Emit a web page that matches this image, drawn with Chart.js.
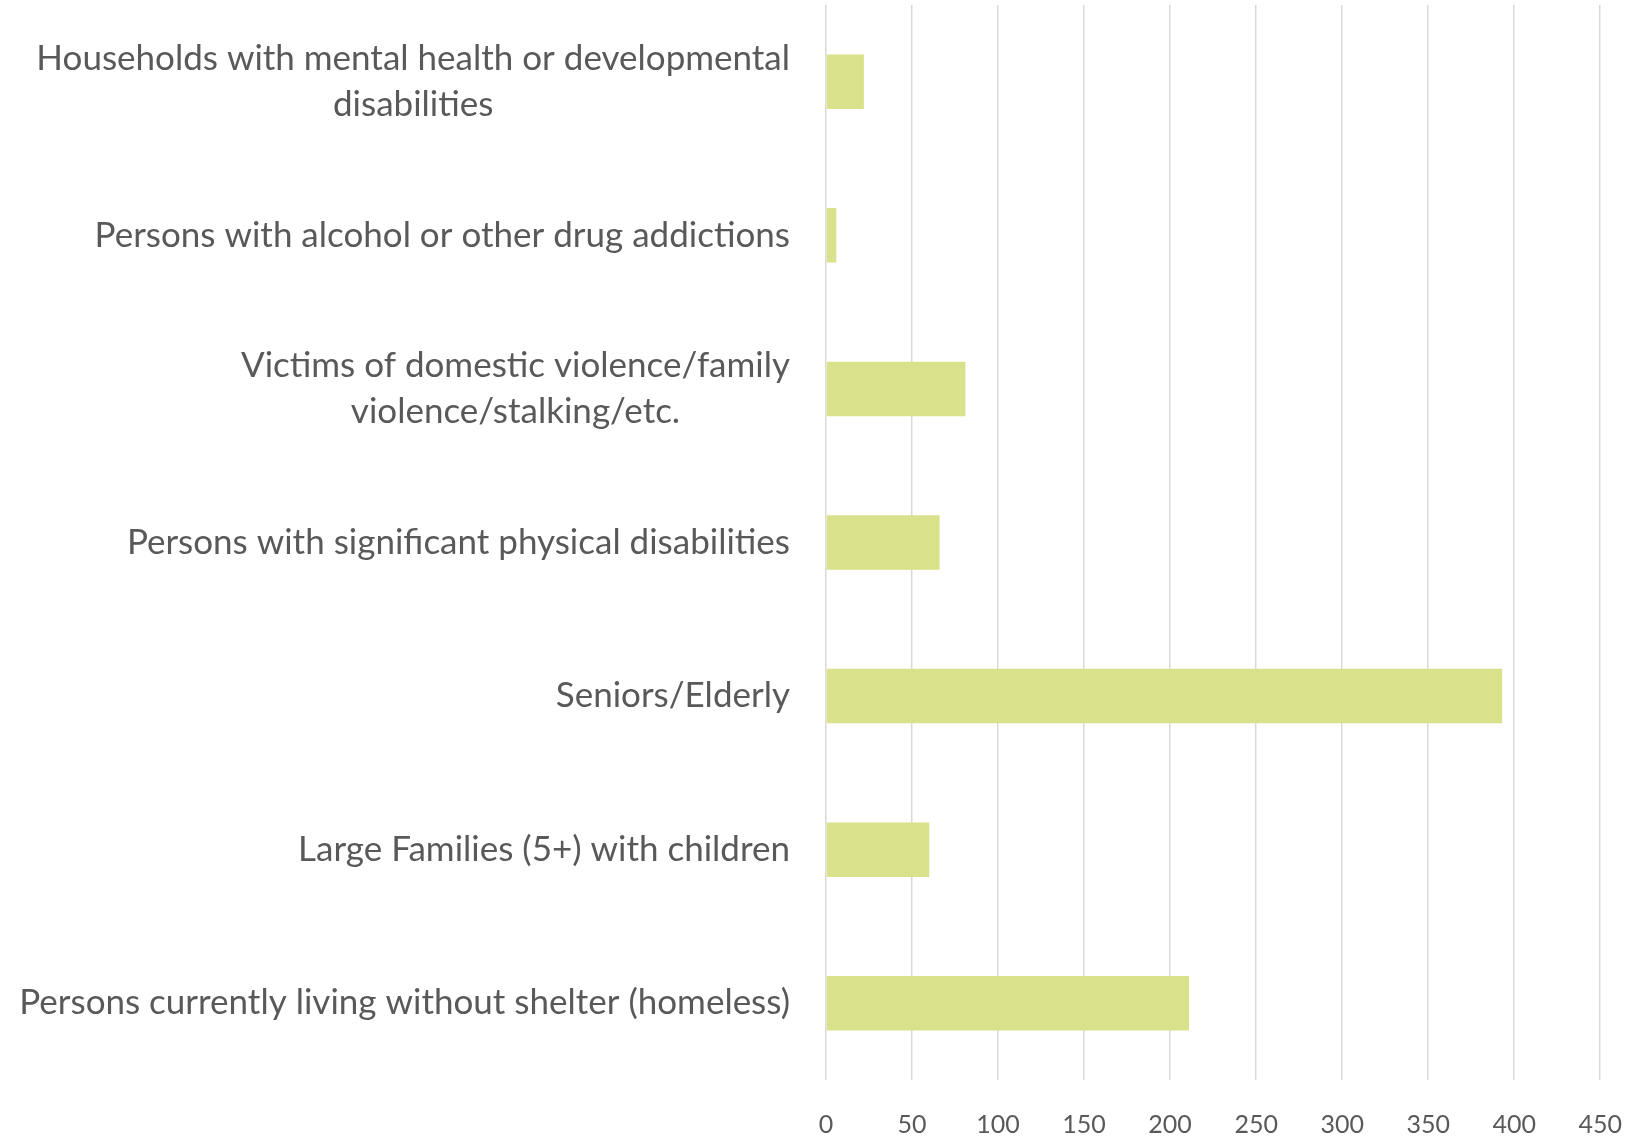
<!DOCTYPE html>
<html>
<head>
<meta charset="utf-8">
<title>Special needs households</title>
<script src="https://cdn.jsdelivr.net/npm/chart.js@4/dist/chart.umd.min.js"></script>
<style>
  html, body { margin: 0; padding: 0; background: #ffffff; }
  #wrap { width: 1652px; height: 1140px; }
</style>
</head>
<body>
<div id="wrap"><canvas id="chart" width="1652" height="1140"></canvas></div>
<script>
// Category labels, top to bottom; wrapped labels are given as arrays of lines
const categories = [
  ['Households with mental health or developmental', 'disabilities'],
  'Persons with alcohol or other drug addictions',
  ['Victims of domestic violence/family', 'violence/stalking/etc.'],
  'Persons with significant physical disabilities',
  'Seniors/Elderly',
  'Large Families (5+) with children',
  'Persons currently living without shelter (homeless)'
];

// Number of households per category
const counts = [22, 6, 81, 66, 393, 60, 211];

// Value axis tick labels
const xTickValues = [0, 50, 100, 150, 200, 250, 300, 350, 400, 450];

const TEXT_COLOR = '#595959';
const BAR_COLOR = '#D9E28A';
const GRID_COLOR = '#D9D9D9';
const LABEL_FONT = '35px Lato';
const LABEL_LINE_HEIGHT = 45.5;
const LABEL_GAP = 36;

// Draws the category labels right-aligned as a block, with wrapped lines centred
const categoryLabels = {
  id: 'categoryLabels',
  afterDraw(chart) {
    const { ctx, chartArea, scales: { y } } = chart;
    const right = chartArea.left - LABEL_GAP;
    ctx.save();
    ctx.font = LABEL_FONT;
    ctx.fillStyle = TEXT_COLOR;
    ctx.textAlign = 'center';
    ctx.textBaseline = 'middle';
    categories.forEach((label, i) => {
      const lines = Array.isArray(label) ? label : [label];
      const blockWidth = Math.max(...lines.map(l => ctx.measureText(l).width));
      const cx = right - blockWidth / 2;
      const cy = y.getPixelForValue(i);
      lines.forEach((line, j) => {
        ctx.fillText(line, cx, cy + (j - (lines.length - 1) / 2) * LABEL_LINE_HEIGHT);
      });
    });
    ctx.restore();
  }
};

new Chart(document.getElementById('chart'), {
  type: 'bar',
  data: {
    labels: categories,
    datasets: [{
      data: counts,
      backgroundColor: BAR_COLOR,
      borderWidth: 0,
      categoryPercentage: 1,
      barPercentage: 0.355
    }]
  },
  options: {
    indexAxis: 'y',
    responsive: false,
    animation: false,
    layout: { padding: { top: 5, right: 50, bottom: 2, left: 0 } },
    plugins: {
      legend: { display: false },
      tooltip: { enabled: false }
    },
    scales: {
      x: {
        type: 'linear',
        min: 0,
        max: 450,
        afterBuildTicks(scale) {
          scale.ticks = xTickValues.map(v => ({ value: v }));
        },
        grid: { color: GRID_COLOR, lineWidth: 1.5, drawTicks: false },
        border: { display: false },
        ticks: {
          color: TEXT_COLOR,
          font: { family: 'Lato', size: 25 },
          padding: 30,
          maxRotation: 0
        },
        afterFit(scale) { scale.height = 58; }
      },
      y: {
        type: 'category',
        grid: { display: false },
        border: { display: false },
        ticks: { display: false },
        afterFit(scale) { scale.width = 826; }
      }
    }
  },
  plugins: [categoryLabels]
});
</script>
</body>
</html>
